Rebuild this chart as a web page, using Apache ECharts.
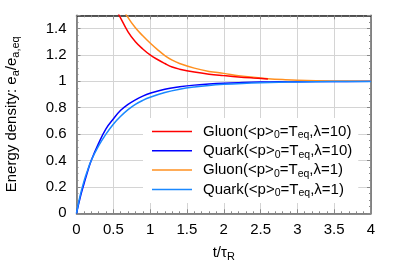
<!DOCTYPE html>
<html>
<head>
<meta charset="utf-8">
<script src="https://cdn.jsdelivr.net/npm/echarts@6/dist/echarts.min.js"></script>
<style>html,body{margin:0;padding:0;background:#fff;}#c{width:399px;height:279px;}</style>
</head>
<body>
<div id="c"></div>
<script>
// Data
const seriesNames = ['Gluon λ=10', 'Quark λ=10', 'Gluon λ=1', 'Quark λ=1'];
const tQuark = [0, 0.05, 0.1, 0.15, 0.2, 0.3, 0.4, 0.5, 0.6, 0.7, 0.8, 0.9, 1.0, 1.2, 1.4, 1.6, 1.8, 2.0, 2.25, 2.5, 2.75, 3.0, 3.5, 4.0];
const quark10 = [0, 0.12, 0.22, 0.315, 0.40, 0.53, 0.64, 0.715, 0.78, 0.825, 0.86, 0.888, 0.909, 0.94, 0.958, 0.971, 0.979, 0.985, 0.99, 0.994, 0.996, 0.997, 0.999, 1.0];
const quark1 = [0, 0.135, 0.24, 0.325, 0.40, 0.51, 0.60, 0.675, 0.735, 0.785, 0.825, 0.855, 0.879, 0.915, 0.94, 0.957, 0.969, 0.977, 0.984, 0.989, 0.993, 0.995, 0.998, 0.999];
const tGluon10 = [0.5, 0.58, 0.7, 0.8, 0.9, 1.0, 1.1, 1.2, 1.3, 1.4, 1.6, 1.8, 2.0, 2.2, 2.4, 2.6];
const gluon10 = [1.585, 1.5, 1.375, 1.3, 1.245, 1.2, 1.165, 1.135, 1.108, 1.092, 1.07, 1.054, 1.043, 1.033, 1.025, 1.018];
const tGluon1 = [0.6, 0.68, 0.8, 0.9, 1.0, 1.1, 1.2, 1.3, 1.4, 1.6, 1.8, 2.0, 2.2, 2.4, 2.6, 2.8, 3.0, 3.5, 4.0];
const gluon1 = [1.578, 1.5, 1.405, 1.345, 1.29, 1.24, 1.195, 1.16, 1.135, 1.10, 1.075, 1.06, 1.043, 1.03, 1.02, 1.013, 1.008, 1.003, 1.001];

const legendRich = {
  'Gluon λ=10': '{g| }{m|Gluon(<p>}{s|0}{m|=T}{s|eq}{m|,λ=10)}',
  'Quark λ=10': '{g| }{m|Quark(<p>}{s|0}{m|=T}{s|eq}{m|,λ=10)}',
  'Gluon λ=1': '{g| }{m|Gluon(<p>}{s|0}{m|=T}{s|eq}{m|,λ=1)}',
  'Quark λ=1': '{g| }{m|Quark(<p>}{s|0}{m|=T}{s|eq}{m|,λ=1)}'
};
const colors = ['#ff0000', '#0000ff', '#ff9020', '#1a88ff'];
const FONT = 'Liberation Sans, Arial, sans-serif';
const FS = 15;

function pairs(xs, ys) { return xs.map((x, i) => [x, ys[i]]); }

const chart = echarts.init(document.getElementById('c'), null, {renderer: 'canvas'});
const gridLine = {show: true, lineStyle: {color: '#d4d4d4', width: 1}};
const axLine = (c) => ({show: true, onZero: false, lineStyle: {color: c, width: 1.5}});
const tick = {show: true, inside: true, length: 4, lineStyle: {color: '#888', width: 1}};
const minor = (n) => ({show: true, splitNumber: n, length: 2, lineStyle: {color: '#888', width: 1}});
const nameRich = {
  m: {fontSize: FS, lineHeight: 15, fontFamily: FONT, color: '#000', verticalAlign: 'middle'},
  s: {fontSize: 11, lineHeight: 10, padding: [8, 0, 0, 0], fontFamily: FONT, color: '#000', verticalAlign: 'middle'}
};

chart.setOption({
  animation: false,
  backgroundColor: '#fff',
  grid: {left: 76.5, right: 28, top: 15.3, bottom: 65.7, containLabel: false, outerBoundsMode: 'none'},
  xAxis: [{
    type: 'value', min: 0, max: 4, interval: 0.5, position: 'bottom',
    axisLine: axLine('#666'), axisTick: tick, minorTick: minor(5),
    splitLine: gridLine,
    axisLabel: {color: '#000', fontSize: FS, fontFamily: FONT, margin: 9,
      formatter: v => String(v)},
    name: '{m|t/τ}{s|R}', nameLocation: 'middle', nameGap: 32,
    nameTextStyle: {color: '#000', fontFamily: FONT, rich: nameRich}
  }, {
    type: 'value', min: 0, max: 4, interval: 0.5, position: 'top',
    axisLine: axLine('#222'), axisTick: tick, minorTick: minor(5),
    splitLine: {show: false}, axisLabel: {show: false}
  }],
  yAxis: [{
    type: 'value', min: 0, max: 1.5, interval: 0.2, position: 'left',
    axisLine: axLine('#666'), axisTick: tick, minorTick: minor(4),
    splitLine: gridLine,
    axisLabel: {color: '#000', fontSize: FS, fontFamily: FONT, margin: 10,
      formatter: v => (v > 1.45 ? '' : String(Math.round(v * 10) / 10))},
    name: '{m|Energy density: e}{s|a}{m|/e}{s|a,eq}', nameLocation: 'middle', nameGap: 57,
    nameRotate: 90,
    nameTextStyle: {color: '#000', fontFamily: FONT, rich: nameRich}
  }, {
    type: 'value', min: 0, max: 1.5, interval: 0.2, position: 'right',
    axisLine: axLine('#666'), axisTick: tick, minorTick: minor(4),
    splitLine: {show: false}, axisLabel: {show: false}
  }],
  legend: {
    orient: 'vertical', left: 143, top: 118,
    padding: [4, 6, 4, 9], itemGap: 0.3,
    backgroundColor: '#fff',
    icon: 'rect', itemWidth: 40, itemHeight: 1.5,
    data: seriesNames,
    formatter: name => legendRich[name],
    textStyle: {color: '#000', fontFamily: FONT,
      rich: {g: {width: 6, fontSize: FS, lineHeight: 15},
             m: {fontSize: FS, lineHeight: 15, fontFamily: FONT, color: '#000', verticalAlign: 'middle'},
             s: {fontSize: 10.5, lineHeight: 10, padding: [8, 0, 0, 0], fontFamily: FONT, color: '#000', verticalAlign: 'middle'}}}
  },
  series: [
    {name: seriesNames[0], type: 'line', data: pairs(tGluon10, gluon10), smooth: 0.4, symbol: 'none', clip: true,
     lineStyle: {color: colors[0], width: 1.5}, itemStyle: {color: colors[0]}, z: 3},
    {name: seriesNames[1], type: 'line', data: pairs(tQuark, quark10), smooth: 0.4, symbol: 'none', clip: true,
     lineStyle: {color: colors[1], width: 1.5}, itemStyle: {color: colors[1]}, z: 2},
    {name: seriesNames[2], type: 'line', data: pairs(tGluon1, gluon1), smooth: 0.4, symbol: 'none', clip: true,
     lineStyle: {color: colors[2], width: 1.5}, itemStyle: {color: colors[2]}, z: 2},
    {name: seriesNames[3], type: 'line', data: pairs(tQuark, quark1), smooth: 0.4, symbol: 'none', clip: true,
     lineStyle: {color: colors[3], width: 1.5}, itemStyle: {color: colors[3]}, z: 3}
  ]
});
</script>
</body>
</html>
